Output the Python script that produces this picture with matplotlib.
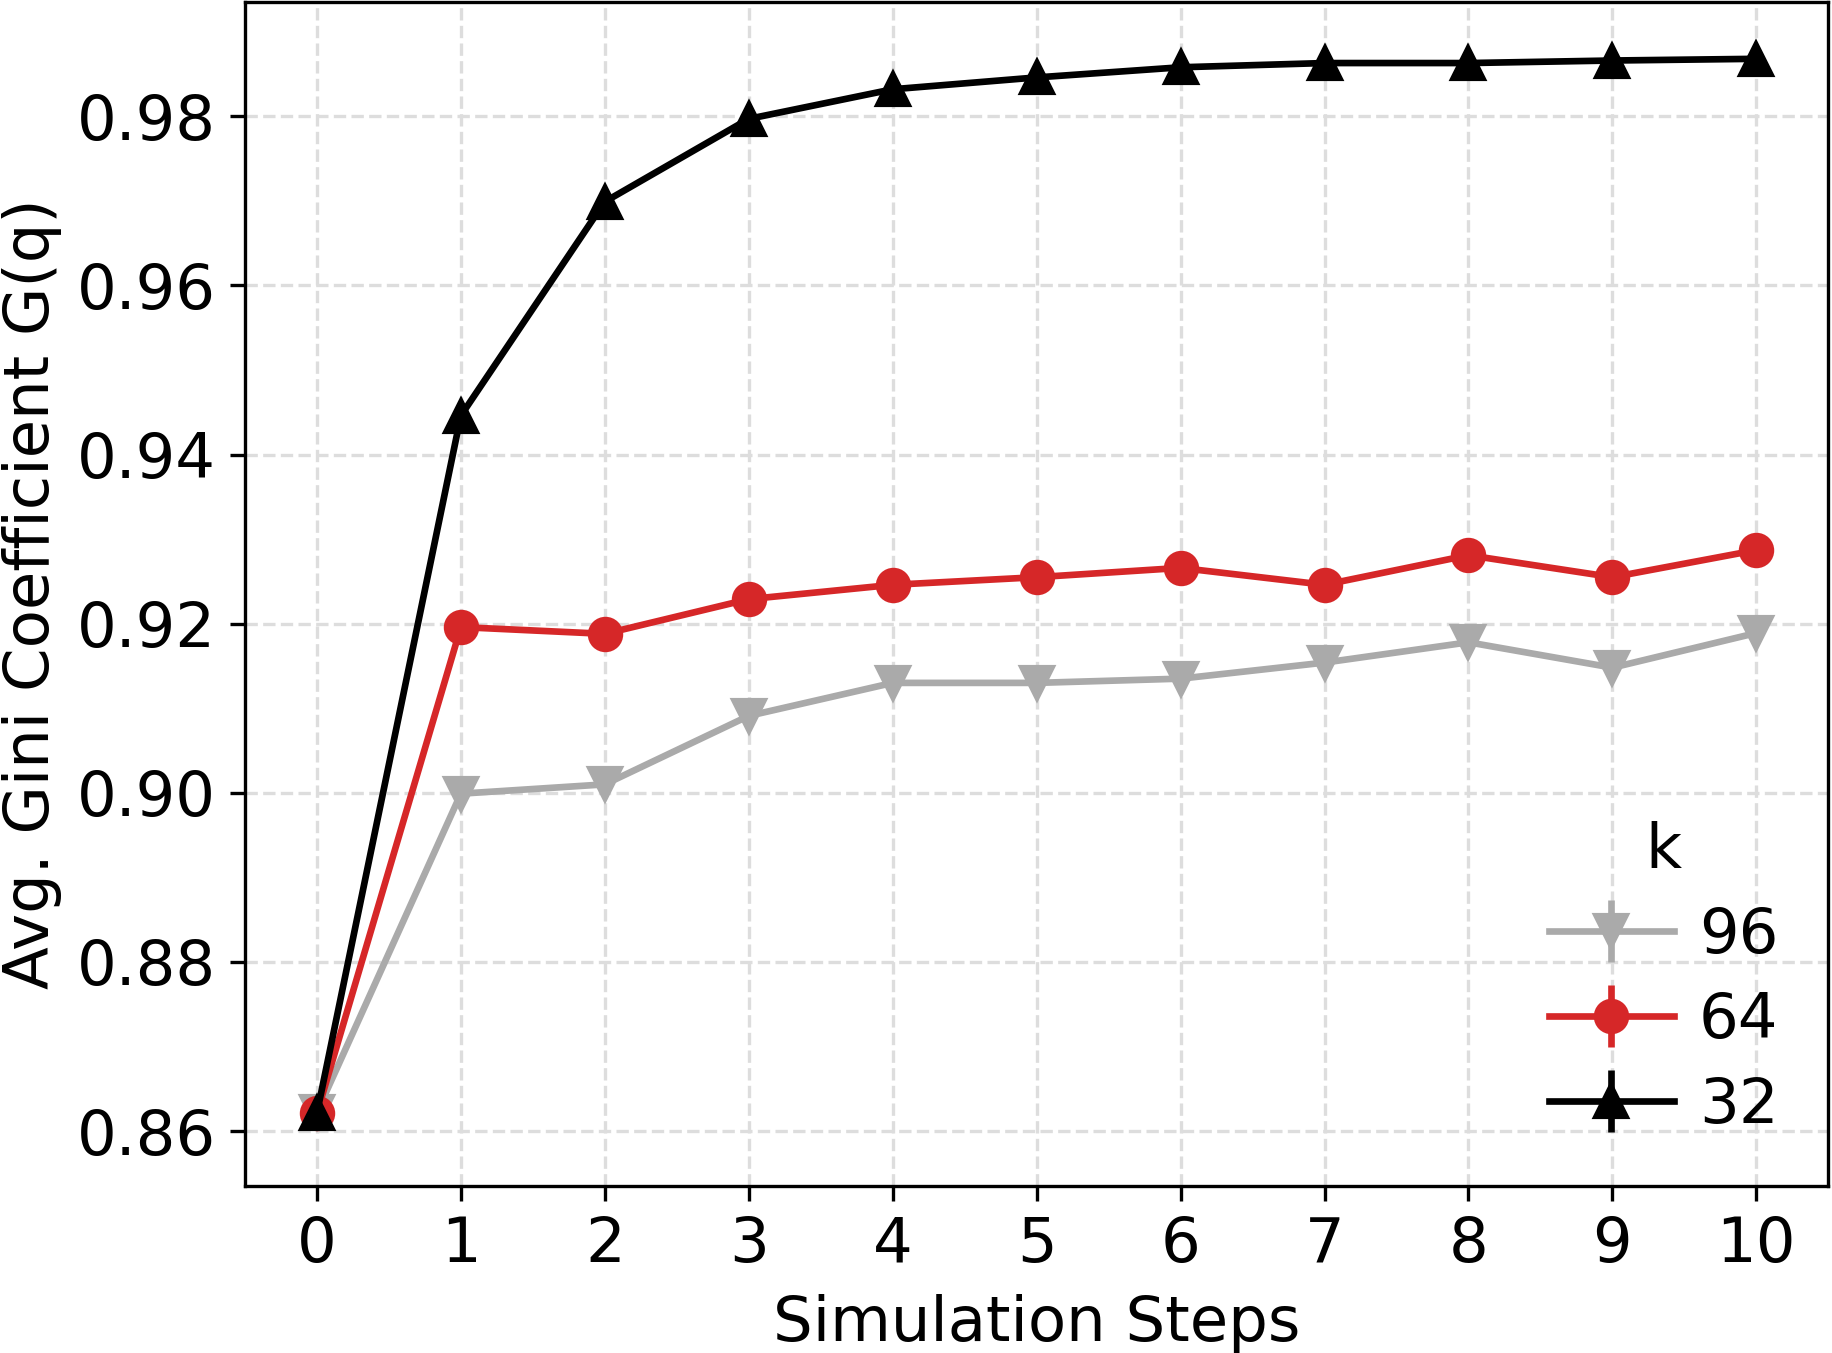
import matplotlib
matplotlib.use('Agg')
import matplotlib.pyplot as plt
import numpy as np

# シミュレーションのステップ
steps = list(range(11))

# k ごとの平均ジニ係数
k_labels = ['96', '64', '32']
gini_96 = [0.8622, 0.8999, 0.9010, 0.9091, 0.9130, 0.9130, 0.9135, 0.9154, 0.9178, 0.9148, 0.9189]
gini_64 = [0.8621, 0.9196, 0.9188, 0.9229, 0.9246, 0.9255, 0.9266, 0.9246, 0.9281, 0.9255, 0.9287]
gini_32 = [0.8621, 0.9446, 0.9699, 0.9797, 0.9832, 0.9846, 0.9858, 0.9863, 0.9863, 0.9866, 0.9868]
# 誤差はほぼ見えないくらい小さい
err_96 = [0.0003] * 11
err_64 = [0.0003] * 11
err_32 = [0.0003] * 11

fig = plt.figure(figsize=(1832 / 300, 1353 / 300), dpi=300)
ax = fig.add_axes([0.1337, 0.1234, 0.8643, 0.875])

ax.errorbar(steps, gini_96, yerr=err_96, color='#aaaaaa', marker='v', markersize=7.5, linewidth=1.6, label=k_labels[0])
ax.errorbar(steps, gini_64, yerr=err_64, color='#d62728', marker='o', markersize=7.5, linewidth=1.6, label=k_labels[1])
ax.errorbar(steps, gini_32, yerr=err_32, color='black', marker='^', markersize=7.5, linewidth=1.6, label=k_labels[2])

ax.set_xlim(-0.5, 10.5)
ax.set_ylim(0.8535, 0.9935)
ax.set_xticks(steps)
ax.set_yticks([0.86, 0.88, 0.90, 0.92, 0.94, 0.96, 0.98])
ax.tick_params(labelsize=15)
ax.grid(True, linestyle='--', color='#dddddd', linewidth=0.8)
ax.set_xlabel('Simulation Steps', fontsize=15, labelpad=4.5)
ax.set_ylabel('Avg. Gini Coefficient G(q)', fontsize=15, labelpad=3.5)

leg = ax.legend(title='k', fontsize=15, title_fontsize=15, frameon=False, loc='lower right',
                borderaxespad=0.4, labelspacing=0.4, handletextpad=0.4)

fig.savefig('out.png', dpi=300)
